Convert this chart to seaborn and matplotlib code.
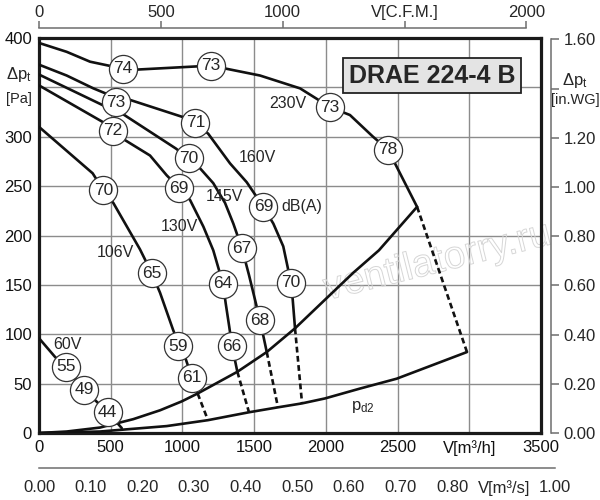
import numpy as np
import matplotlib.pyplot as plt
import matplotlib.patheffects as pe
import seaborn as sns

# fan curves: V in m3/h, dp in Pa
v_230 = [0, 193, 356, 584, 681, 1199, 1541, 1820, 2029, 2168, 2329, 2433, 2517, 2636]
p_230 = [395, 386, 376, 369, 368, 372, 362, 349, 330, 322, 300, 287, 263, 229]

v_160 = [0, 193, 379, 479, 641, 1002, 1090, 1180, 1332, 1448, 1518, 1564, 1634, 1703, 1738, 1757, 1769, 1785]
p_160 = [373, 362, 349, 343, 337, 320, 314, 303, 273, 254, 239, 229, 212, 189, 165, 152, 135, 106]

v_145 = [0, 444, 595, 955, 1044, 1123, 1215, 1297, 1355, 1415, 1464, 1506, 1541, 1566, 1588]
p_145 = [363, 332, 322, 288, 278, 268, 253, 233, 212, 187, 160, 135, 114, 97, 82]

v_130 = [0, 444, 514, 595, 774, 890, 978, 1053, 1146, 1215, 1283, 1302, 1326, 1346, 1383]
p_130 = [352, 315, 306, 297, 281, 261, 248, 236, 209, 185, 151, 131, 108, 88, 62]

v_106 = [0, 374, 448, 518, 704, 786, 844, 936, 983, 1018, 1067, 1106]
p_106 = [310, 263, 246, 233, 186, 162, 142, 104, 87, 77, 56, 40]

v_60 = [0, 112, 186, 314, 479, 577]
p_60 = [96, 77, 67, 44, 21, 5]

# dashed continuation down to the p_d2 curve
dash_end_v = [2984, 1834, 1666, 1464, 1178]
dash_end_p = [82, 30, 26, 21, 13]

# system curve and dynamic pressure curve
sys_v = [0, 193, 425, 657, 844, 995, 1106, 1383, 1588, 1785, 2189, 2370, 2636]
sys_p = [0, 1.5, 5.5, 14, 23, 32, 40, 62, 82, 106, 162, 185, 229]
pd_v = [0, 425, 890, 1178, 1464, 1666, 1834, 1994, 2238, 2494, 2984]
pd_p = [0, 1.5, 7, 13, 21, 26, 30, 35, 45, 55, 82]

# noise level circles dB(A)
mark_v = [584, 1199, 2029, 2433, 537, 1090, 1564, 1757, 514, 1044, 1415, 1541,
          978, 1283, 1346, 448, 786, 969, 1067, 186, 314, 479]
mark_p = [369, 372, 330, 287, 335, 314, 229, 152, 306, 278, 187, 114,
          248, 151, 88, 246, 162, 88, 56, 67, 44, 21]
mark_txt = ['74', '73', '73', '78', '73', '71', '69', '70', '72', '70', '67', '68',
            '69', '64', '66', '70', '65', '59', '61', '55', '49', '44']

# curve labels
label_txt = ['230V', '160V', '145V', '130V', '106V', '60V', 'dB(A)']
label_v = [1733, 1520, 1290, 976, 530, 199, 1834]
label_p = [334, 279, 239, 209, 183, 90, 229]

x_ticks = [0, 500, 1000, 1500, 2000, 2500, 3000, 3500]
x_labels = ['0', '500', '1000', '1500', '2000', '2500', 'V[m³/h]', '3500']
y_ticks = [0, 50, 100, 150, 200, 250, 300, 350, 400]
y_labels = ['0', '50', '100', '150', '200', '250', '300', '', '400']
cfm_ticks = [0, 500, 1000, 1500, 2000]
cfm_labels = ['0', '500', '1000', 'V[C.F.M.]', '2000']
m3s_ticks = [0.0, 0.1, 0.2, 0.3, 0.4, 0.5, 0.6, 0.7, 0.8, 0.9, 1.0]
m3s_labels = ['0.00', '0.10', '0.20', '0.30', '0.40', '0.50', '0.60', '0.70', '0.80', 'V[m³/s]', '1.00']
wg_ticks = [0.0, 0.2, 0.4, 0.6, 0.8, 1.0, 1.2, 1.4, 1.6]
wg_labels = ['0.00', '0.20', '0.40', '0.60', '0.80', '1.00', '1.20', '', '1.60']

sns.set_theme(style='white')
plt.rcParams['font.family'] = ['Liberation Sans', 'DejaVu Sans']

fig = plt.figure(figsize=(6, 5), dpi=100)
L, B, W, H = 39 / 600, 67 / 500, 502 / 600, 395 / 500
ax = fig.add_axes([L, B, W, H])

# main curves
for v, p in [(v_230, p_230), (v_160, p_160), (v_145, p_145),
             (v_130, p_130), (v_106, p_106), (v_60, p_60)]:
    sns.lineplot(x=v, y=p, sort=False, estimator=None, color='#111111',
                 lw=1.9, ax=ax, zorder=3)

# dashed lines from system curve to p_d2
solid_ends = [(v_230[-1], p_230[-1]), (v_160[-1], p_160[-1]), (v_145[-1], p_145[-1]),
              (v_130[-1], p_130[-1]), (v_106[-1], p_106[-1])]
for (v0, p0), v1, p1 in zip(solid_ends, dash_end_v, dash_end_p):
    ax.plot([v0, v1], [p0, p1], color='#111111', lw=1.9,
            linestyle=(0, (2.2, 1.3)), zorder=3)

sns.lineplot(x=sys_v, y=sys_p, sort=False, estimator=None, color='#111111',
             lw=1.9, ax=ax, zorder=3)
sns.lineplot(x=pd_v, y=pd_p, sort=False, estimator=None, color='#111111',
             lw=1.9, ax=ax, zorder=3)

# noise circles
sns.scatterplot(x=mark_v, y=mark_p, s=410, color='white', edgecolor='#333333',
                linewidth=0.9, ax=ax, zorder=5)
for v, p, t in zip(mark_v, mark_p, mark_txt):
    ax.text(v, p, t, ha='center', va='center', fontsize=12.5, zorder=6)

for v, p, t in zip(label_v, label_p, label_txt):
    ax.text(v, p, t, ha='center', va='center', fontsize=11.5, zorder=4)
ax.text(2259, 26, r'$\mathregular{p_{d2}}$', ha='center', va='center', fontsize=12)

# model name box
ax.text(2740, 362, 'DRAE 224-4 B', fontsize=18, fontweight='bold',
        ha='center', va='center', zorder=7,
        bbox=dict(boxstyle='square,pad=0.22', fc='#e4e4e4', ec='#222222', lw=1.3))

# watermark
ax.text(2780, 173, 'ventilatorry.ru', fontsize=28, rotation=14, color='none',
        ha='center', va='center', zorder=2, clip_on=False,
        path_effects=[pe.Stroke(linewidth=0.7, foreground='#d6d6d6')])

ax.set_xlim(0, 3500)
ax.set_ylim(0, 400)
ax.set_xticks(x_ticks)
ax.set_xticklabels(x_labels)
ax.set_yticks(y_ticks)
ax.set_yticklabels(y_labels)
ax.tick_params(length=0, pad=5, labelsize=12, colors='#111111')
ax.grid(True, color='#8c8c8c', lw=1.0)
ax.set_axisbelow(True)
for s in ax.spines.values():
    s.set_linewidth(2.3)
    s.set_color('#1a1a1a')
    s.set_visible(True)
ax.set_xlabel('')
ax.set_ylabel('')

fig.text(19 / 600, 1 - 75 / 500, r'$\mathregular{Δp_t}$', ha='center', va='center', fontsize=12)
fig.text(19 / 600, 1 - 99 / 500, '[Pa]', ha='center', va='center', fontsize=10.5)

# extra scales
ax_cfm = fig.add_axes([L, 1 - 28 / 500, W * 2000 * 1.699 / 3500, 1e-5])
ax_cfm.set_xlim(0, 2000)
ax_cfm.set_xticks(cfm_ticks)
ax_cfm.set_xticklabels(cfm_labels)
ax_cfm.xaxis.tick_top()
ax_cfm.set_yticks([])

ax_m3s = fig.add_axes([L, 32 / 500, W * 3600 / 3500, 1e-5])
ax_m3s.set_xlim(0, 1.0)
ax_m3s.set_xticks(m3s_ticks)
ax_m3s.set_xticklabels(m3s_labels)
ax_m3s.set_yticks([])

ax_wg = fig.add_axes([551 / 600, B, 1e-5, H * 1.6 * 249.09 / 400])
ax_wg.set_ylim(0, 1.6)
ax_wg.set_yticks(wg_ticks)
ax_wg.set_yticklabels(wg_labels)
ax_wg.yaxis.tick_right()
ax_wg.set_xticks([])

for a, side in [(ax_cfm, 'top'), (ax_m3s, 'bottom'), (ax_wg, 'right')]:
    a.patch.set_visible(False)
    for k, s in a.spines.items():
        s.set_visible(k == side)
        s.set_color('#6e6e6e')
        s.set_linewidth(1.1)
    a.tick_params(direction='out', length=6, width=1.1, color='#6e6e6e',
                  labelsize=12, pad=3)
ax_cfm.tick_params(length=5, pad=1)

fig.text(575 / 600, 1 - 81 / 500, r'$\mathregular{Δp_t}$', ha='center', va='center', fontsize=12)
fig.text(575 / 600, 1 - 100 / 500, '[in.WG]', ha='center', va='center', fontsize=10.5)

fig.savefig('out.png', dpi=100)
